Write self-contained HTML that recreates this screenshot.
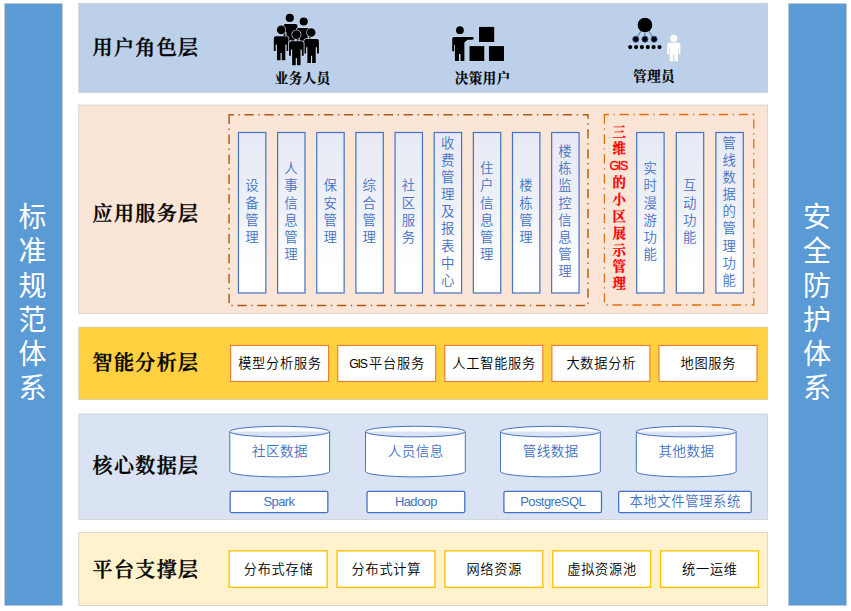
<!DOCTYPE html>
<html lang="zh-CN">
<head>
<meta charset="utf-8">
<title>系统架构图</title>
<style>
html,body{margin:0;padding:0;background:#fff;}
body{width:851px;height:611px;position:relative;overflow:hidden;font-family:"Liberation Sans","Noto Sans CJK SC",sans-serif;}
.abs{position:absolute;}
.bar{position:absolute;top:3.5px;width:58px;height:602px;}
.bar .vt{position:absolute;left:0;width:58px;text-align:center;color:#fff;font-size:28px;line-height:34.1px;}
.layer{position:absolute;left:78.5px;width:689.5px;box-shadow:0 0 0 0.6px #cfcfcf;}
.lt{position:absolute;left:92.6px;font-family:"Liberation Serif","Noto Serif CJK SC",serif;font-weight:600;font-size:20px;letter-spacing:1.35px;line-height:24px;color:#000;-webkit-text-stroke:0.35px #000;white-space:nowrap;}
.cap{position:absolute;font-family:"Liberation Serif","Noto Serif CJK SC",serif;font-weight:bold;font-size:13.4px;letter-spacing:0.6px;text-indent:0.6px;line-height:16px;color:#000;-webkit-text-stroke:0.2px #000;white-space:nowrap;text-align:center;}
.vb{position:absolute;top:131.9px;width:28.6px;height:161.8px;display:flex;align-items:center;justify-content:center;}
.vb span{display:block;position:relative;top:-1px;left:-0.3px;font-weight:350;width:14px;font-size:13.4px;line-height:17.15px;color:#4472C4;text-align:center;word-break:break-all;}
.hb{position:absolute;width:99px;font-size:13.2px;letter-spacing:0.75px;text-indent:0.75px;font-weight:350;color:#000;text-align:center;white-space:nowrap;}
.l3 .hb{top:345px;height:37px;line-height:37px;}
.l5 .hb{top:550.6px;height:37px;line-height:37px;}
.sb{position:absolute;top:491px;height:22px;line-height:22px;color:#4472C4;font-size:13px;letter-spacing:-0.6px;text-align:center;white-space:nowrap;}
.ct{position:absolute;top:441.7px;width:100px;height:20px;line-height:20px;font-size:13.5px;letter-spacing:0.5px;text-indent:0.5px;font-weight:350;color:#4472C4;text-align:center;white-space:nowrap;}
</style>
</head>
<body>
<!-- layer backgrounds -->
<svg class="abs" style="left:0;top:0" width="851" height="611" viewBox="0 0 851 611">
  <g stroke="#C9C9C9" stroke-width="0.7">
    <rect x="4.55" y="3.4" width="57.9" height="602.2" fill="#5B9BD5"/>
    <rect x="788.4" y="3.4" width="58.2" height="602.2" fill="#5B9BD5"/>
    <rect x="78.8" y="3.3" width="688.9" height="89.1" fill="#BDD0E9"/>
    <rect x="78.8" y="105.1" width="688.9" height="208.2" fill="#FBE5D6"/>
    <rect x="78.8" y="327.1" width="688.9" height="72.6" fill="#FFD040"/>
    <rect x="78.8" y="414" width="688.9" height="105.4" fill="#DAE3F3"/>
    <rect x="78.8" y="532.7" width="688.9" height="72.9" fill="#FFF2CC"/>
  </g>
</svg>

<!-- side bars -->
<div class="bar" style="left:4.5px"><div class="vt" style="top:197.9px;left:-1px">标<br>准<br>规<br>范<br>体<br>系</div></div>
<div class="bar" style="left:788.5px"><div class="vt" style="top:197.9px;left:-0.4px">安<br>全<br>防<br>护<br>体<br>系</div></div>

<!-- layer titles -->
<div class="lt" style="top:35.8px">用户角色层</div>
<div class="lt" style="top:202px">应用服务层</div>
<div class="lt" style="top:351px">智能分析层</div>
<div class="lt" style="top:454px">核心数据层</div>
<div class="lt" style="top:557.6px">平台支撑层</div>

<!-- layer 1 icons -->
<svg class="abs" style="left:0;top:0" width="851" height="100" viewBox="0 0 851 100">
  <!-- group of people -->
  <g fill="#000" stroke="#CCD8E9" stroke-width="1.3" paint-order="stroke" stroke-linejoin="round">
    <circle cx="289.8" cy="17.9" r="4.1"/>
    <path d="M285.40 24.10 h10.20 q1.90 0 1.90 1.90 v11.97 h-1.80 v-5.98 h-1.19 v14.91 h-3.44 v-6.84 h-1.14 v6.84 h-3.44 v-14.91 h-1.19 v5.98 h-1.80 v-11.97 q0 -1.90 1.90 -1.90 Z"/>
    <circle cx="303.7" cy="21.5" r="4.1"/>
    <path d="M298.60 27.90 h10.20 q1.90 0 1.90 1.90 v11.97 h-1.80 v-5.98 h-1.19 v14.91 h-3.44 v-6.84 h-1.14 v6.84 h-3.44 v-14.91 h-1.19 v5.98 h-1.80 v-11.97 q0 -1.90 1.90 -1.90 Z"/>
    <circle cx="281.2" cy="29.9" r="4.3"/>
    <path d="M275.80 36.30 h10.70 q2.00 0 2.00 2.00 v12.60 h-1.90 v-6.30 h-1.25 v15.70 h-3.60 v-7.20 h-1.20 v7.20 h-3.60 v-15.70 h-1.25 v6.30 h-1.90 v-12.60 q0 -2.00 2.00 -2.00 Z"/>
    <circle cx="311.2" cy="32.5" r="4.3"/>
    <path d="M306.20 38.90 h10.70 q2.00 0 2.00 2.00 v12.60 h-1.90 v-6.30 h-1.25 v15.70 h-3.60 v-7.20 h-1.20 v7.20 h-3.60 v-15.70 h-1.25 v6.30 h-1.90 v-12.60 q0 -2.00 2.00 -2.00 Z"/>
    <circle cx="296.4" cy="34.6" r="4.3"/>
    <path d="M291.00 41.20 h10.70 q2.00 0 2.00 2.00 v12.60 h-1.90 v-6.30 h-1.25 v15.70 h-3.60 v-7.20 h-1.20 v7.20 h-3.60 v-15.70 h-1.25 v6.30 h-1.90 v-12.60 q0 -2.00 2.00 -2.00 Z"/>
  </g>
  <!-- decision user -->
  <g fill="#000" stroke="#CCD8E9" stroke-width="0.9" paint-order="stroke" stroke-linejoin="round">
    <circle cx="459.9" cy="30.2" r="3.9"/>
    <path d="M454 36.9 H472.4 a1.4 1.4 0 0 1 0 2.8 H467.6 L464.4 42.6 V60.9 H460.5 V53.9 H459 V60.9 H454.9 V44.8 H454.1 V51.25 H452.2 V38.7 q0 -1.8 1.8 -1.8 Z"/>
    <rect x="479" y="26.9" width="15.2" height="15.1"/>
    <rect x="469.5" y="46.1" width="14.8" height="14.9"/>
    <rect x="488.9" y="46.1" width="15.1" height="14.9"/>
  </g>
  <!-- admin -->
  <g>
    <g stroke="#2F5597" stroke-width="0.8" fill="none">
      <line x1="644.95" y1="25" x2="635.8" y2="39.2"/>
      <line x1="644.95" y1="25" x2="644.95" y2="39.2"/>
      <line x1="644.95" y1="25" x2="654.1" y2="39.2"/>
    </g>
    <g stroke="#D5DCE6" stroke-width="0.5" fill="none">
      <line x1="635.8" y1="39.2" x2="630.2" y2="47.1"/>
      <line x1="635.8" y1="39.2" x2="636.1" y2="47.1"/>
      <line x1="644.95" y1="39.2" x2="641.9" y2="47.1"/>
      <line x1="644.95" y1="39.2" x2="647.8" y2="47.1"/>
      <line x1="654.1" y1="39.2" x2="653.6" y2="47.1"/>
      <line x1="654.1" y1="39.2" x2="659.5" y2="47.1"/>
    </g>
    <circle cx="644.95" cy="25" r="7.3" fill="#000" stroke="#CCD8E9" stroke-width="0.8" paint-order="stroke"/>
    <g fill="#000" stroke="#2F5597" stroke-width="1">
      <circle cx="635.8" cy="39.2" r="3.05"/>
      <circle cx="644.95" cy="39.2" r="3.05"/>
      <circle cx="654.1" cy="39.2" r="3.05"/>
    </g>
    <g fill="#000" stroke="#CCD8E9" stroke-width="0.8" paint-order="stroke">
      <circle cx="630.2" cy="47.1" r="2.1"/><circle cx="636.1" cy="47.1" r="2.1"/><circle cx="641.9" cy="47.1" r="2.1"/>
      <circle cx="647.8" cy="47.1" r="2.1"/><circle cx="653.6" cy="47.1" r="2.1"/><circle cx="659.5" cy="47.1" r="2.1"/>
    </g>
    <line x1="647.7" y1="54.5" x2="668" y2="54.5" stroke="#C6C6C6" stroke-width="0.8"/>
    <g fill="#fff" stroke="#D2D2D2" stroke-width="0.8" paint-order="stroke" stroke-linejoin="round">
      <circle cx="673.8" cy="38.3" r="3.6"/>
      <path d="M669.1 42.7 h9.4 q1.8 0 1.8 1.8 v9.5 h-1.7 v-6 h-0.7 v13.3 h-3.5 v-6.6 h-1.2 v6.6 h-3.5 v-13.3 h-0.7 v6 h-1.7 v-9.5 q0 -1.8 1.8 -1.8 Z"/>
    </g>
  </g>
</svg>
<div class="cap" style="left:262.5px;width:80px;top:71.4px">业务人员</div>
<div class="cap" style="left:442.5px;width:80px;top:71.4px">决策用户</div>
<div class="cap" style="left:614px;width:80px;top:68.6px">管理员</div>

<!-- layer 2 dashed frames -->
<svg class="abs" style="left:0;top:100px" width="851" height="215" viewBox="0 100 851 215">
  <path d="M229.1 114.7 V305.4 H588 V114.7 Z" fill="none" stroke="#A95D1A" stroke-width="1.45" stroke-dasharray="9.3 4.6 1.4 4.6"/>
  <path d="M604.4 114.5 V305 H753.8 V114.5 Z" fill="none" stroke="#E36F0C" stroke-width="1.3" stroke-dasharray="9.3 4.63 1.3 4.63"/>
</svg>

<!-- box outlines -->
<svg class="abs" style="left:0;top:0" width="851" height="611" viewBox="0 0 851 611">
<defs><linearGradient id="vg" x1="0" y1="0" x2="0" y2="1"><stop offset="0" stop-color="#e7eaf5"/><stop offset="0.48" stop-color="#eff1f8"/><stop offset="0.8" stop-color="#ffffff"/></linearGradient></defs>
<g fill="url(#vg)" stroke="#4472C4" stroke-width="1.2">
<rect x="238.45" y="132.5" width="27.4" height="160.5"/>
<rect x="277.60" y="132.5" width="27.4" height="160.5"/>
<rect x="316.75" y="132.5" width="27.4" height="160.5"/>
<rect x="355.90" y="132.5" width="27.4" height="160.5"/>
<rect x="395.05" y="132.5" width="27.4" height="160.5"/>
<rect x="434.20" y="132.5" width="27.4" height="160.5"/>
<rect x="473.35" y="132.5" width="27.4" height="160.5"/>
<rect x="512.50" y="132.5" width="27.4" height="160.5"/>
<rect x="551.65" y="132.5" width="27.4" height="160.5"/>
<rect x="636.70" y="132.5" width="27.4" height="160.5"/>
<rect x="676.30" y="132.5" width="27.4" height="160.5"/>
<rect x="715.90" y="132.5" width="27.4" height="160.5"/>
</g>
<g fill="#fff" stroke="#ED7D31" stroke-width="1.15">
<rect x="230.60" y="345.45" width="98" height="36"/>
<rect x="337.70" y="345.45" width="98" height="36"/>
<rect x="444.80" y="345.45" width="98" height="36"/>
<rect x="551.90" y="345.45" width="98" height="36"/>
<rect x="659.00" y="345.45" width="98" height="36"/>
</g>
<g fill="#fff" stroke="#FFC000" stroke-width="1.33">
<rect x="229.20" y="550.85" width="97.95" height="36.5"/>
<rect x="337.05" y="550.85" width="97.95" height="36.5"/>
<rect x="444.90" y="550.85" width="97.95" height="36.5"/>
<rect x="552.75" y="550.85" width="97.95" height="36.5"/>
<rect x="660.60" y="550.85" width="97.95" height="36.5"/>
</g>
</svg>
<!-- layer 2 vertical boxes -->
<div class="vb" style="left:237.85px"><span>设备管理</span></div>
<div class="vb" style="left:277.00px"><span>人事信息管理</span></div>
<div class="vb" style="left:316.15px"><span>保安管理</span></div>
<div class="vb" style="left:355.30px"><span>综合管理</span></div>
<div class="vb" style="left:394.45px"><span>社区服务</span></div>
<div class="vb" style="left:433.60px"><span>收费管理及报表中心</span></div>
<div class="vb" style="left:472.75px"><span>住户信息管理</span></div>
<div class="vb" style="left:511.90px"><span>楼栋管理</span></div>
<div class="vb" style="left:551.05px"><span>楼栋监控信息管理</span></div>
<div class="abs" style="left:604.3px;top:124.6px;width:30px;text-align:center;color:#FF0000;font-family:'Liberation Serif','Noto Serif CJK SC',serif;font-weight:bold;font-size:13.4px;line-height:16.85px;-webkit-text-stroke:0.25px #FF0000;">三<br>维<br><span style="font-family:'Liberation Sans',sans-serif;font-weight:normal;font-size:12.5px;letter-spacing:-1.25px;position:relative;left:-1px;-webkit-text-stroke:0.35px #FF0000">GIS</span><br>的<br>小<br>区<br>展<br>示<br>管<br>理</div>
<div class="vb" style="left:636.10px"><span>实时漫游功能</span></div>
<div class="vb" style="left:675.70px"><span>互动功能</span></div>
<div class="vb" style="left:715.30px"><span>管线数据的管理功能</span></div>

<!-- layer 3 -->
<div class="l3">
<div class="hb" style="left:230.10px">模型分析服务</div>
<div class="hb" style="left:337.20px"><span style="font-size:12.2px;letter-spacing:-1.25px;margin-right:2.6px">GIS</span>平台服务</div>
<div class="hb" style="left:444.30px">人工智能服务</div>
<div class="hb" style="left:551.40px">大数据分析</div>
<div class="hb" style="left:658.50px">地图服务</div>
</div>

<!-- layer 4 -->
<svg class="abs" style="left:0;top:414px" width="851" height="106" viewBox="0 414 851 106">
  <g fill="#fff" stroke="#4472C4" stroke-width="1">
    <path id="cyl" d="M229.8 431.6 a49.9 5.3 0 0 1 99.8 0 v39.9 a49.9 5.4 0 0 1 -99.8 0 Z M229.8 431.6 a49.9 5.3 0 0 0 99.8 0"/>
    <path d="M365.5 431.6 a49.9 5.3 0 0 1 99.8 0 v39.9 a49.9 5.4 0 0 1 -99.8 0 Z M365.5 431.6 a49.9 5.3 0 0 0 99.8 0"/>
    <path d="M500.5 431.6 a49.9 5.3 0 0 1 99.8 0 v39.9 a49.9 5.4 0 0 1 -99.8 0 Z M500.5 431.6 a49.9 5.3 0 0 0 99.8 0"/>
    <path d="M636.3 431.6 a49.9 5.3 0 0 1 99.8 0 v39.9 a49.9 5.4 0 0 1 -99.8 0 Z M636.3 431.6 a49.9 5.3 0 0 0 99.8 0"/>
  </g>
  <g fill="#fff" stroke="#4472C4" stroke-width="1.3">
    <rect x="230.2" y="491.4" width="97.65" height="21.3" rx="1.6"/>
    <rect x="367.0" y="491.4" width="97.80" height="21.3" rx="1.6"/>
    <rect x="503.9" y="491.4" width="97.60" height="21.3" rx="1.6"/>
    <rect x="618.65" y="491.4" width="132.55" height="21.3" rx="1.6"/>
  </g>
</svg>
<div class="ct" style="left:229.8px">社区数据</div>
<div class="ct" style="left:365.5px">人员信息</div>
<div class="ct" style="left:500.5px">管线数据</div>
<div class="ct" style="left:636.3px">其他数据</div>
<div class="sb" style="left:230.20px;width:97.65px">Spark</div>
<div class="sb" style="left:367.00px;width:97.80px">Hadoop</div>
<div class="sb" style="left:503.90px;width:97.60px">PostgreSQL</div>
<div class="sb" style="left:618.65px;width:132.55px;font-size:13.4px;letter-spacing:0.55px;text-indent:0.55px;font-weight:350">本地文件管理系统</div>

<!-- layer 5 -->
<div class="l5">
<div class="hb" style="left:228.68px">分布式存储</div>
<div class="hb" style="left:336.52px">分布式计算</div>
<div class="hb" style="left:444.38px">网络资源</div>
<div class="hb" style="left:552.23px">虚拟资源池</div>
<div class="hb" style="left:660.07px">统一运维</div>
</div>
</body>
</html>
